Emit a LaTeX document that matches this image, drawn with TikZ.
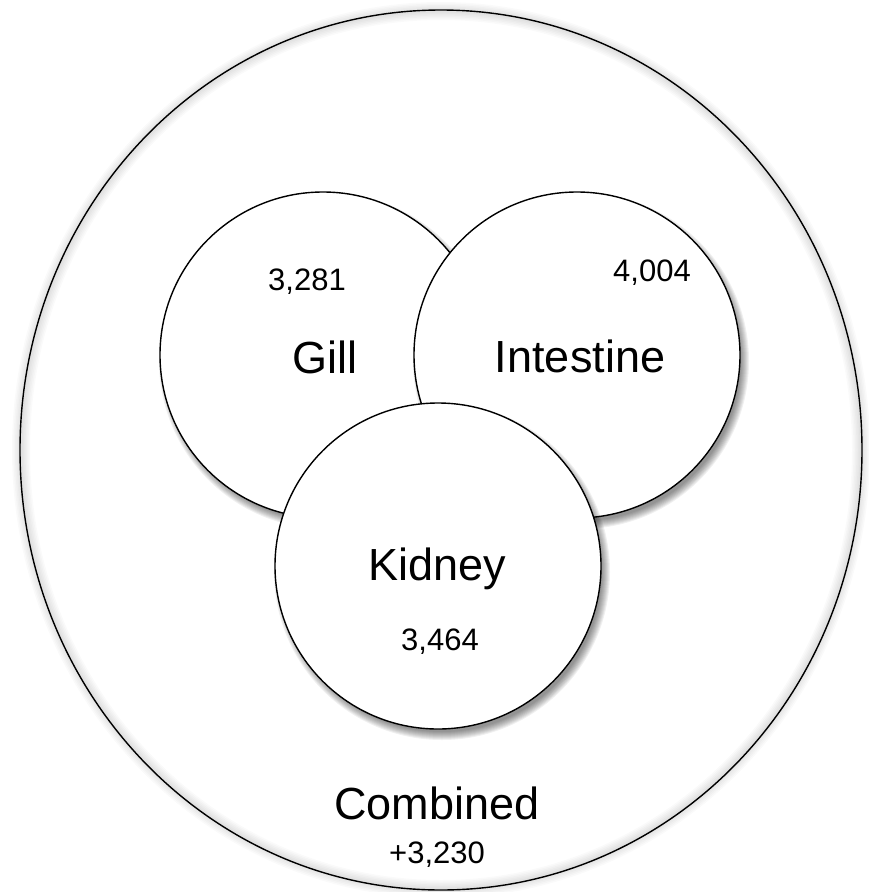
\documentclass[tikz,border=0pt]{standalone}
\usepackage{fontspec}
\setmainfont{Liberation Sans}
\usetikzlibrary{shapes.geometric}

\tikzset{
  organ/.style={circle, draw, fill=white, line width=1.4pt, inner sep=0pt,
    minimum size=326pt},
  organname/.style={anchor=base, inner sep=0pt, font=\fontsize{45}{54}\selectfont},
  genecount/.style={anchor=base, inner sep=0pt, font=\fontsize{31}{37}\selectfont}
}
% soft shadow below and right of an organ circle
\newcommand\organshadow[1]{%
  \foreach \k in {0,...,8}
    \fill[black, opacity=0.06] ([shift={(4,6)}]#1) circle [radius={(160+\k)*1pt}];}

\begin{document}
\begin{tikzpicture}[x=1pt, y=-1pt]
  \useasboundingbox (0,0) rectangle (869,892);
  % outer set, with a soft haze along its rim
  \coordinate (combinedc) at (441,450);
  \foreach \w in {3,6,...,18}
    \draw[black, opacity=0.018, line width=\w pt] (combinedc)
      ellipse [x radius=420pt, y radius=439pt];
  \node[ellipse, draw, line width=1.4pt, inner sep=0pt,
    minimum width=842pt, minimum height=880pt] (combined) at (combinedc) {};
  % the three organs
  \coordinate (gillc) at (323,355);
  \coordinate (intestinec) at (577,355);
  \coordinate (kidneyc) at (438,566);
  \organshadow{gillc}
  \node[organ] (gill) at (gillc) {};
  \organshadow{intestinec}
  \node[organ] (intestine) at (intestinec) {};
  \organshadow{kidneyc}
  \node[organ] (kidney) at (kidneyc) {};
  % labels
  \node[genecount] (gillcount) at (307,290) {3,281};
  \node[organname] (gillname) at (325,373) {Gill};
  \node[genecount] (intestinecount) at (652,281) {4,004};
  \node[organname] (intestinename) at (580,372) {Intestine};
  \node[organname] (kidneyname) at (437,580) {Kidney};
  \node[genecount] (kidneycount) at (440,650) {3,464};
  \node[organname] (combinedname) at (437,819) {Combined};
  \node[genecount] (combinedcount) at (437,863) {+3,230};
\end{tikzpicture}
\end{document}
